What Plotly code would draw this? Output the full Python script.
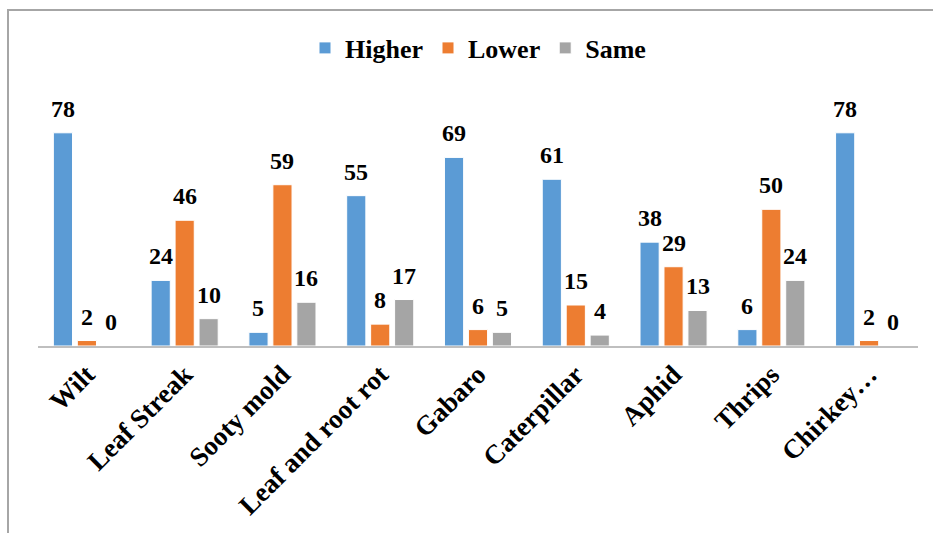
import plotly.graph_objects as go

categories = ["Wilt", "Leaf Streak", "Sooty mold", "Leaf and root rot", "Gabaro",
              "Caterpillar", "Aphid", "Thrips", "Chirkey…"]
higher = [78, 24, 5, 55, 69, 61, 38, 6, 78]
lower = [2, 46, 59, 8, 6, 15, 29, 50, 2]
same = [0, 10, 16, 17, 5, 4, 13, 24, 0]

series = [("Higher", higher, "#5B9BD5"),
          ("Lower", lower, "#ED7D31"),
          ("Same", same, "#A5A5A5")]

FONT = "Liberation Serif, Times New Roman, serif"

L, R, T, B = 38, 15, 100, 187
W, H = 933, 533
pw, ph = W - L - R, H - T - B
BARGAP = 0.265
slot = pw / len(categories) * (1 - BARGAP) / len(series)

fig = go.Figure()
annotations = []
for i, (name, vals, color) in enumerate(series):
    fig.add_trace(go.Bar(
        name=name, x=categories, y=vals,
        marker=dict(color=color, line=dict(color="white", width=1)),
    ))
    # value labels above each bar
    for cat, v in zip(categories, vals):
        annotations.append(dict(
            x=cat, y=v, xref="x", yref="y", text=f"<b>{v}</b>",
            showarrow=False, yanchor="bottom", xanchor="center",
            xshift=(i - 1) * slot, yshift=9,
            font=dict(family=FONT, size=24, color="black"),
        ))

fig.update_layout(
    width=W, height=H,
    margin=dict(l=L, r=R, t=T, b=B),
    paper_bgcolor="white", plot_bgcolor="white",
    barmode="group", bargap=BARGAP, bargroupgap=0.2,
    font=dict(family=FONT, color="black"),
    showlegend=True,
    legend=dict(orientation="h", x=0.5, xanchor="center", y=1 + (T - 48) / ph,
                yanchor="middle",
                font=dict(family=FONT, size=26, color="black", weight="bold"),
                itemwidth=30, tracegroupgap=0),
    xaxis=dict(tickangle=-45, showline=True, linecolor="#BFBFBF", linewidth=2,
               ticks="", tickfont=dict(family=FONT, size=27, color="black", weight="bold")),
    yaxis=dict(range=[0, 90], visible=False),
    annotations=annotations,
    shapes=[dict(type="rect", xref="paper", yref="paper",
                 x0=(8 - L) / pw, x1=1.2, y0=-1.0, y1=(H - B - 10) / ph,
                 line=dict(color="#A6A6A6", width=2), fillcolor="rgba(0,0,0,0)",
                 layer="below")],
)

fig.write_html("out.html")
